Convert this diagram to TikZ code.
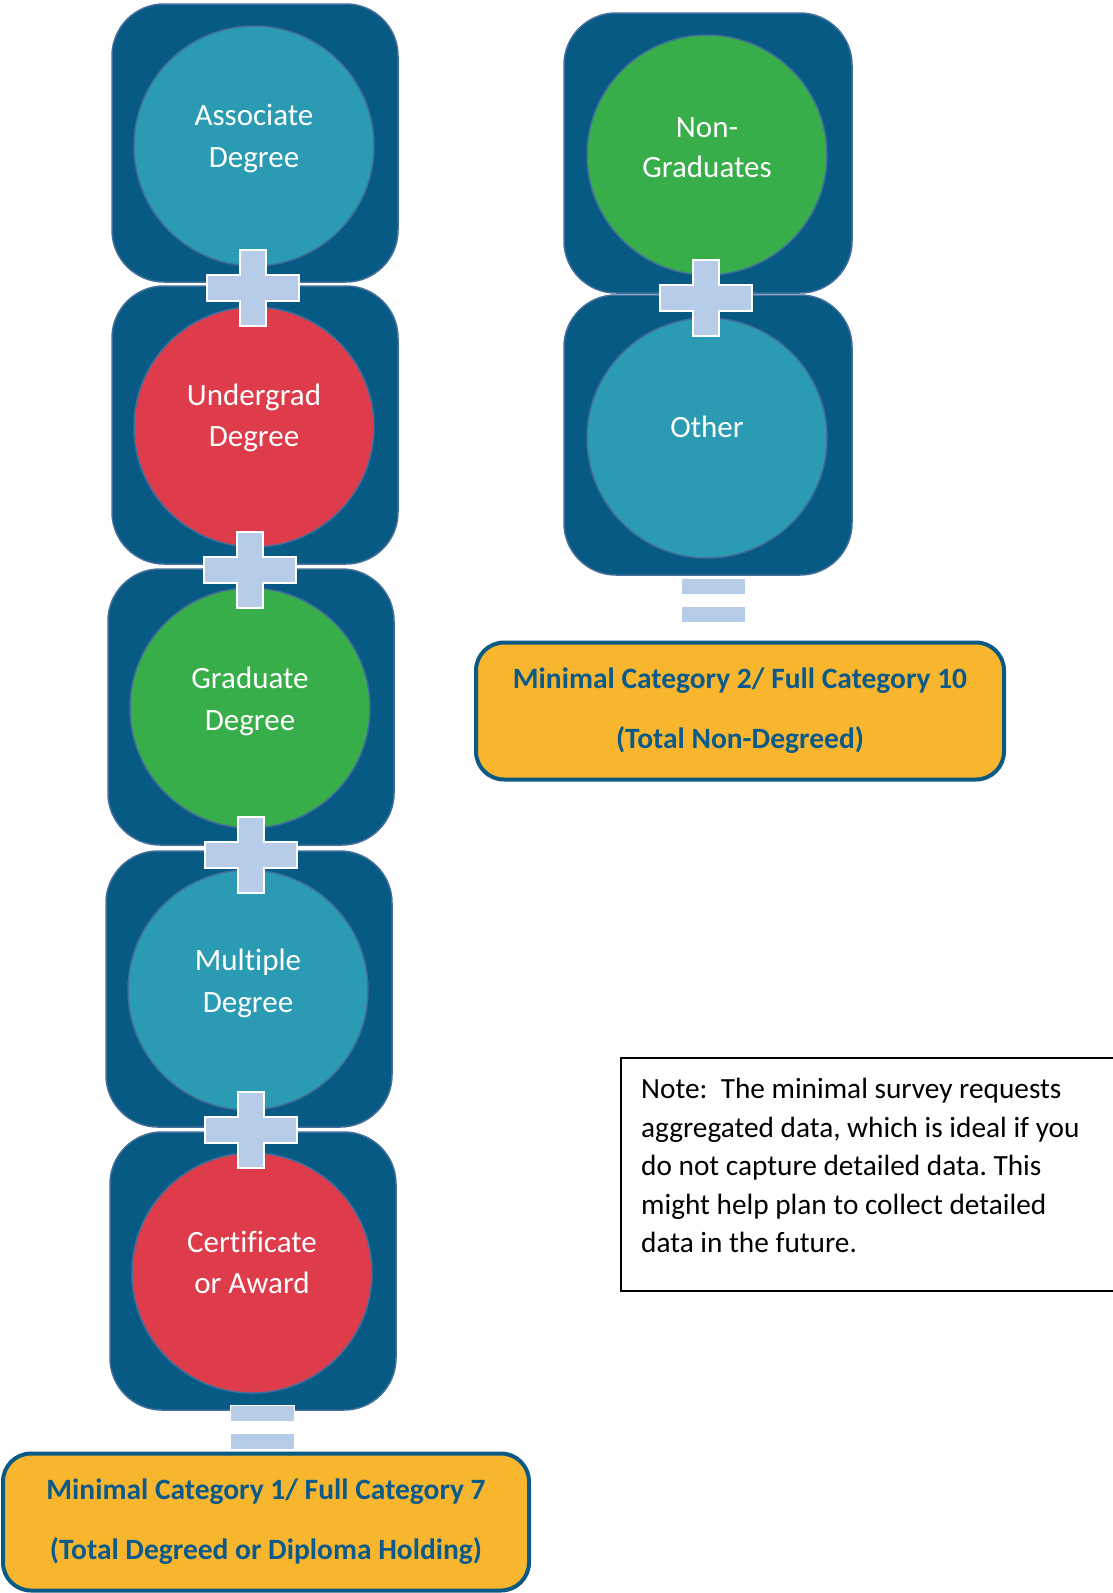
\documentclass[tikz,border=0pt]{standalone}
\usepackage{fontspec}
\setmainfont[Ligatures=NoCommon]{Carlito}
\definecolor{panel}{HTML}{065A84}
\definecolor{edge}{HTML}{416E9B}
\definecolor{teal}{HTML}{2B9BB4}
\definecolor{rose}{HTML}{DE3B4B}
\definecolor{leaf}{HTML}{38AE4A}
\definecolor{gold}{HTML}{F8B62F}
\definecolor{navy}{HTML}{0A5A84}
\definecolor{navytext}{HTML}{0B5A8A}
\definecolor{plusblue}{HTML}{B7CCE8}
\begin{document}
\frenchspacing
\begin{tikzpicture}[x=1pt,y=-1pt,
  panelbox/.style={draw=edge, line width=1.5pt, fill=panel, rounded corners=52pt,
    minimum width=286pt, inner sep=0pt},
  bubble/.style={circle, draw=edge, line width=1.5pt, minimum size=240pt, inner sep=0pt},
  label/.style={text=white, align=center},
  totalbox/.style={draw=navy, line width=4pt, fill=gold, rounded corners=28pt, inner sep=0pt,
    text=navytext, font=\bfseries\fontsize{29.5}{60}\selectfont, align=center},
  plusbar/.style={fill=plusblue, draw=white, line width=2pt},
  eqbar/.style={fill=plusblue, draw=white, line width=1pt},
  plussign/.pic={\path[plusbar] (-13,-38) -- (13,-38) -- (13,-13) -- (46,-13) -- (46,13)
     -- (13,13) -- (13,38) -- (-13,38) -- (-13,13) -- (-46,13) -- (-46,-13) -- (-13,-13) -- cycle;},
  equalsign/.pic={\path[eqbar] (-32,-22) rectangle (32,-6); \path[eqbar] (-32,6) rectangle (32,22);}
]
\useasboundingbox (0,0) rectangle (1113,1593);
\fill[white] (0,0) rectangle (1113,1593);

% left column panels
\node[panelbox, minimum height=278pt] (p1) at (255,143) {};
\node[panelbox, minimum height=278pt] (p2) at (255,425) {};
\node[panelbox, minimum height=276pt] (p3) at (251,707) {};
\node[panelbox, minimum height=276pt] (p4) at (249,989) {};
\node[panelbox, minimum height=278pt] (p5) at (253,1271) {};
% right column panels
\node[panelbox, minimum width=288pt, minimum height=280pt] (q1) at (708,153) {};
\node[panelbox, minimum width=288pt, minimum height=280pt] (q2) at (708,435) {};

% circles
\node[bubble, fill=teal] (c1) at (254,146) {};
\node[label, font=\fontsize{31}{42}\selectfont] (l1) at (254,138) {Associate\\Degree};
\node[bubble, fill=rose] (c2) at (254,427) {};
\node[label, font=\fontsize{31}{41}\selectfont] (l2) at (254,418) {Undergrad\\Degree};
\node[bubble, fill=leaf] (c3) at (250,708) {};
\node[label, font=\fontsize{31}{42}\selectfont] (l3) at (250,701) {Graduate\\Degree};
\node[bubble, fill=teal] (c4) at (248,990) {};
\node[label, font=\fontsize{31}{42}\selectfont] (l4) at (248,983) {Multiple\\Degree};
\node[bubble, fill=rose] (c5) at (252,1273) {};
\node[label, font=\fontsize{31}{41}\selectfont] (l5) at (252,1262) {Certificate\\or Award};
\node[bubble, fill=leaf] (d1) at (707,155) {};
\node[label, font=\fontsize{31}{40}\selectfont] (m1) at (707,148) {Non-\\Graduates};
\node[bubble, fill=teal] (d2) at (707,438) {};
\node[label, font=\fontsize{31}{41}\selectfont] (m2) at (707,427) {Other};

% plus signs
\pic at (253,288) {plussign};
\pic at (250,570) {plussign};
\pic at (251,855) {plussign};
\pic at (251,1130) {plussign};
\pic at (706,298) {plussign};

% equals signs
\pic at (262,1427) {equalsign};
\pic at (713,600) {equalsign};

% totals
\node[totalbox, minimum width=526pt, minimum height=137pt] (t1) at (266,1522)
  {Minimal Category 1/ Full Category 7\\(Total Degreed or Diploma Holding)};
\node[totalbox, minimum width=528pt, minimum height=137pt] (t2) at (740,711)
  {Minimal Category 2/ Full Category 10\\(Total Non-Degreed)};

% note
\draw[black, line width=1.5pt] (1120,1058) -- (621,1058) -- (621,1291) -- (1120,1291);
\node[anchor=north west, inner sep=0pt, align=left, font=\fontsize{29.3}{38.6}\selectfont] (note) at (641,1078)
  {Note:\ \ The minimal survey requests\\aggregated data, which is ideal if you\\do not capture detailed data. This\\might help plan to collect detailed\\data in the future.};
\end{tikzpicture}
\end{document}
